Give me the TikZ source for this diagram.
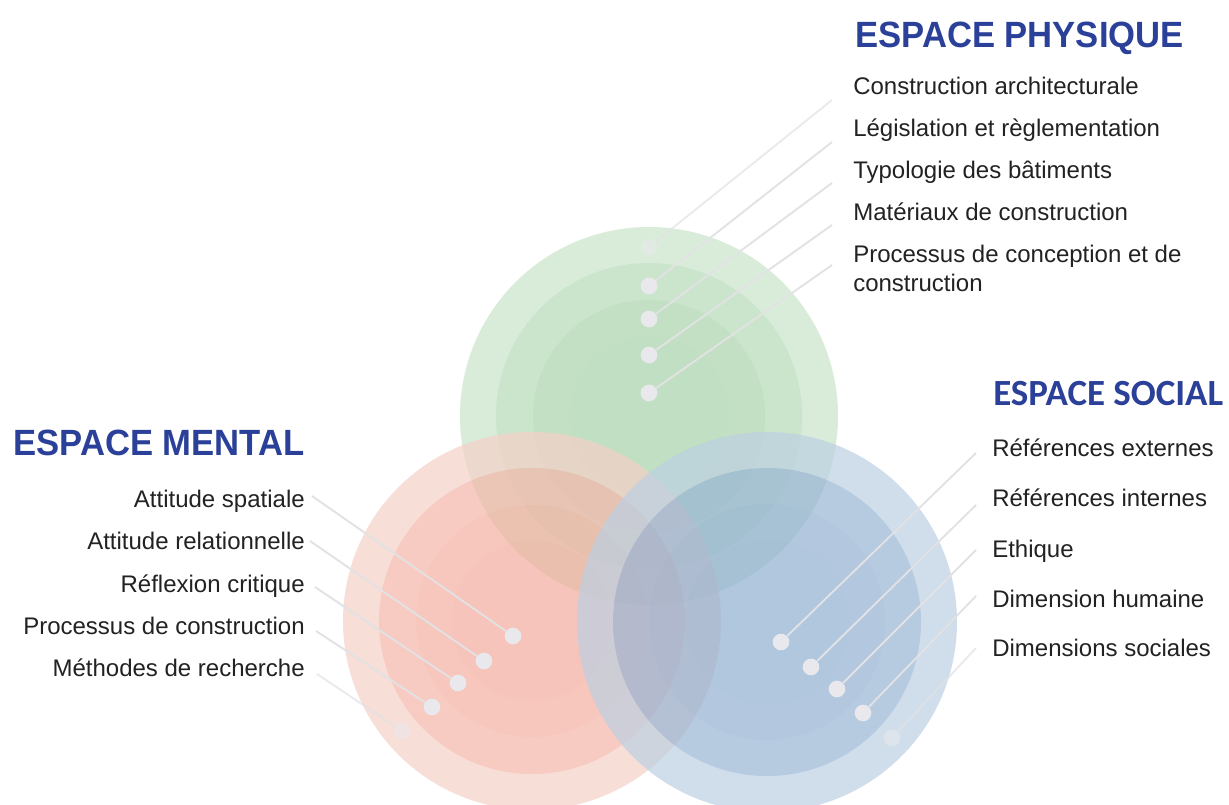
\documentclass[tikz,border=0pt]{standalone}
\usepackage{fontspec}
\setmainfont{Liberation Sans}
\newfontfamily\headfont[FakeStretch=0.948]{Liberation Sans}
\newfontfamily\socfont{Carlito}
\definecolor{g1}{RGB}{202,228,202}
\definecolor{g2}{RGB}{181,218,183}
\definecolor{g3}{RGB}{170,212,173}
\definecolor{g4}{RGB}{167,210,170}
\definecolor{r1}{RGB}{245,208,199}
\definecolor{r2}{RGB}{244,182,169}
\definecolor{r3}{RGB}{244,175,160}
\definecolor{r4}{RGB}{243,172,157}
\definecolor{b1}{RGB}{188,208,226}
\definecolor{b2}{RGB}{152,180,212}
\definecolor{b3}{RGB}{147,177,210}
\definecolor{b4}{RGB}{144,176,209}
\definecolor{dotc}{RGB}{233,233,237}
\definecolor{leadc}{RGB}{226,226,229}
\definecolor{txt}{RGB}{34,34,34}
\definecolor{headc}{RGB}{43,64,153}
\tikzset{
  dotnode/.style={circle,fill=dotc,inner sep=0pt,minimum size=12.5pt},
  fadedot/.style={dotnode,opacity=0.55},
  lead/.style={draw=leadc,line width=1.4pt},
  fadelead/.style={lead,opacity=0.7},
  lbl/.style={inner sep=0pt,text=txt,font=\fontsize{18}{21.75}\selectfont},
  lblw/.style={lbl,anchor=base west},
  lble/.style={lbl,anchor=base east},
  head/.style={inner sep=0pt,text=headc,font=\headfont\bfseries\fontsize{27.4}{32}\selectfont},
  shead/.style={inner sep=0pt,text=headc,font=\socfont\bfseries\fontsize{27.7}{32}\selectfont},
}
\begin{document}
\begin{tikzpicture}[x=0.75pt,y=-0.75pt]
\fill[white] (0,0) rectangle (1229,805);
\useasboundingbox (0,0) rectangle (1229,805);
% green
\begin{scope}[transparency group,opacity=0.7]
  \fill[g1] (649,416) circle[radius=189];
  \fill[g2] (649,416) circle[radius=153];
  \fill[g3] (649,416) circle[radius=116];
  \fill[g4] (649,416) circle[radius=80];
\end{scope}
% red
\begin{scope}[transparency group,opacity=0.7]
  \fill[r1] (532,621) circle[radius=189];
  \fill[r2] (532,621) circle[radius=153];
  \fill[r3] (532,621) circle[radius=116];
  \fill[r4] (532,621) circle[radius=80];
\end{scope}
% blue
\begin{scope}[transparency group,opacity=0.7]
  \fill[b1] (767,622) circle[radius=190];
  \fill[b2] (767,622) circle[radius=154];
  \fill[b3] (767,622) circle[radius=118];
  \fill[b4] (767,622) circle[radius=82];
\end{scope}

% headings
\node[head,anchor=base west] (hphys) at (855,48) {ESPACE PHYSIQUE};
\node[head,anchor=base east] (hment) at (305,456) {ESPACE MENTAL};
\node[shead,anchor=base west] (hsoc) at (993,406) {ESPACE SOCIAL};

% physical labels
\node[lblw] (lp1) at (853,95) {Construction architecturale};
\node[lblw] (lp2) at (853,137) {Législation et règlementation};
\node[lblw] (lp3) at (853,179) {Typologie des bâtiments};
\node[lblw] (lp4) at (853,221) {Matériaux de construction};
\node[lblw] (lp5) at (853,263) {Processus de conception et de};
\node[lblw] (lp5b) at (853,292) {construction};

% mental labels
\node[lble] (lm1) at (305,508) {Attitude spatiale};
\node[lble] (lm2) at (305,550) {Attitude relationnelle};
\node[lble] (lm3) at (305,592) {Réflexion critique};
\node[lble] (lm4) at (305,634) {Processus de construction};
\node[lble] (lm5) at (305,676) {Méthodes de recherche};

% social labels
\node[lblw] (ls1) at (992,457) {Références externes};
\node[lblw] (ls2) at (992,507) {Références internes};
\node[lblw] (ls3) at (992,557) {Ethique};
\node[lblw] (ls4) at (992,607) {Dimension humaine};
\node[lblw] (ls5) at (992,657) {Dimensions sociales};

% leader end points
\coordinate (ep1) at (832,100);
\coordinate (ep2) at (832,142);
\coordinate (ep3) at (832,183);
\coordinate (ep4) at (832,225);
\coordinate (ep5) at (832,265);
\coordinate (em1) at (312,496);
\coordinate (em2) at (310,541);
\coordinate (em3) at (315,587);
\coordinate (em4) at (316,631);
\coordinate (em5) at (317,674);
\coordinate (es1) at (976,453);
\coordinate (es2) at (976,505);
\coordinate (es3) at (976,550);
\coordinate (es4) at (976,596);
\coordinate (es5) at (976,648);

% dots
\node[fadedot] (dp1) at (649,247) {};
\node[dotnode] (dp2) at (649,286) {};
\node[dotnode] (dp3) at (649,319) {};
\node[dotnode] (dp4) at (649,355) {};
\node[dotnode] (dp5) at (649,393) {};
\node[dotnode] (dm1) at (513,636) {};
\node[dotnode] (dm2) at (484,661) {};
\node[dotnode] (dm3) at (458,683) {};
\node[dotnode] (dm4) at (432,707) {};
\node[fadedot] (dm5) at (402,731) {};
\node[dotnode] (ds1) at (781,642) {};
\node[dotnode] (ds2) at (811,667) {};
\node[dotnode] (ds3) at (837,689) {};
\node[dotnode] (ds4) at (863,713) {};
\node[fadedot] (ds5) at (892,738) {};

% leaders
\draw[fadelead] (dp1) -- (ep1);
\draw[lead] (dp2) -- (ep2);
\draw[lead] (dp3) -- (ep3);
\draw[lead] (dp4) -- (ep4);
\draw[lead] (dp5) -- (ep5);
\draw[lead] (dm1) -- (em1);
\draw[lead] (dm2) -- (em2);
\draw[lead] (dm3) -- (em3);
\draw[lead] (dm4) -- (em4);
\draw[fadelead] (dm5) -- (em5);
\draw[lead] (ds1) -- (es1);
\draw[lead] (ds2) -- (es2);
\draw[lead] (ds3) -- (es3);
\draw[lead] (ds4) -- (es4);
\draw[fadelead] (ds5) -- (es5);
\end{tikzpicture}
\end{document}
